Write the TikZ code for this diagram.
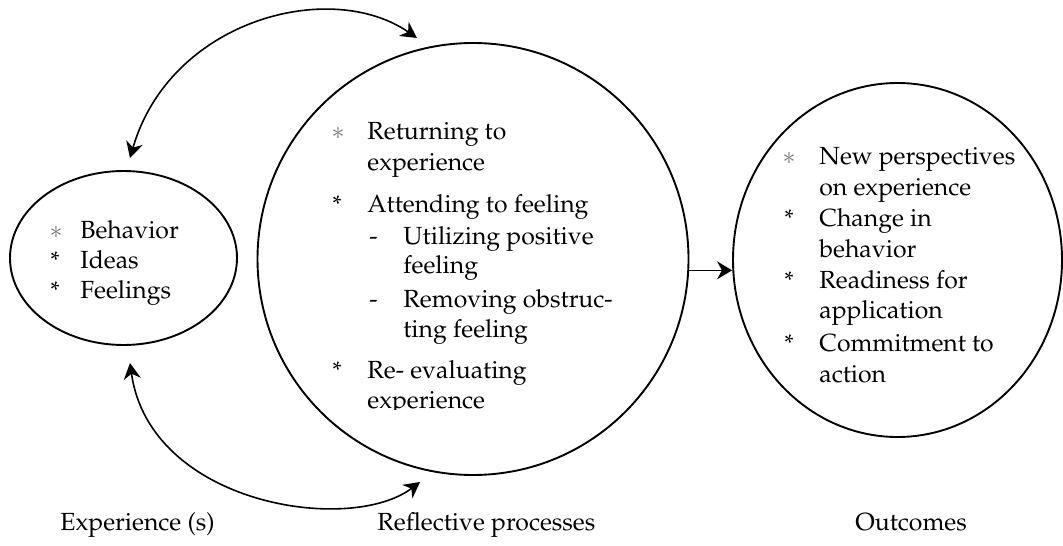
\documentclass[tikz,border=0pt]{standalone}
\usepackage[T1]{fontenc}
\usepackage{mathpazo}
\usetikzlibrary{arrows.meta,shapes.geometric}
\begin{document}
\begin{tikzpicture}[x=0.5pt,y=-0.5pt,
  ring/.style={draw, ellipse, line width=0.95pt, inner sep=0pt},
  tip/.style={line width=0.8pt},
  twoway/.style={tip, {Stealth[length=8pt,width=8.5pt]}-{Stealth[length=8pt,width=8.5pt]}},
  oneway/.style={tip, -{Stealth[length=7.5pt,width=9pt]}},
  txt/.style={anchor=base west, inner sep=0pt, font=\fontsize{12.4}{14}\selectfont},
  lightstar/.style={txt, text=black!55}]
\useasboundingbox (0,0) rectangle (1063,545);

% the three stages
\node[ring, minimum width=113.5pt, minimum height=87pt] (exp) at (123.5,258) {};
\node[ring, minimum width=215.5pt, minimum height=216pt] (refl) at (473,259) {};
\node[ring, minimum width=164.5pt, minimum height=177pt] (outc) at (897.5,260) {};

% experiences
\node[lightstar] (e1s) at (49,238) {$\ast$};
\node[txt] (e1) at (80,238) {Behavior};
\node[txt] (e2s) at (50,268) {\large *};
\node[txt] (e2) at (80,268) {Ideas};
\node[txt] (e3s) at (50,298) {\large *};
\node[txt] (e3) at (80,298) {Feelings};

% reflective processes
\node[lightstar] (r1s) at (331,140) {$\ast$};
\node[txt] (r1a) at (367,140) {Returning to};
\node[txt] (r1b) at (367,170) {experience};
\node[txt] (r2s) at (332,213) {\large *};
\node[txt] (r2) at (367,213) {Attending to feeling};
\node[txt] (r2ad) at (369,244) {-};
\node[txt] (r2a) at (403,244) {Utilizing positive};
\node[txt] (r2a2) at (403,273) {feeling};
\node[txt] (r2bd) at (369,307) {-};
\node[txt] (r2b) at (403,307) {Removing obstruc-};
\node[txt] (r2b2) at (403,337) {ting feeling};
\node[txt] (r3s) at (332,378) {\large *};
\node[txt] (r3a) at (367,378) {Re- evaluating};
\begin{scope}
  \clip (300,385) rectangle (640,409.5);
  \node[txt] (r3b) at (367,408) {experience};
\end{scope}

% outcomes
\node[lightstar] (o1s) at (782,164) {$\ast$};
\node[txt] (o1a) at (819,164) {New perspectives};
\node[txt] (o1b) at (819,195) {on experience};
\node[txt] (o2s) at (784,227) {\large *};
\node[txt] (o2a) at (819,227) {Change in};
\node[txt] (o2b) at (819,257) {behavior};
\node[txt] (o3s) at (784,288) {\large *};
\node[txt] (o3a) at (819,288) {Readiness for};
\node[txt] (o3b) at (819,318) {application};
\node[txt] (o4s) at (784,351) {\large *};
\node[txt] (o4a) at (819,351) {Commitment to};
\node[txt] (o4b) at (819,382) {action};

% captions
\node[txt] (cap1) at (60,530) {Experience (s)};
\node[txt] (cap2) at (377,530) {Reflective processes};
\node[txt] (cap3) at (855,530) {Outcomes};

% connectors
\coordinate (upA) at (130,158);
\coordinate (upB) at (417,38);
\coordinate (dnA) at (130,363);
\coordinate (dnB) at (420,482);
\draw[twoway] (upA) .. controls (170,20) and (330,-22) .. (upB);
\draw[twoway] (dnA) .. controls (150,505) and (350,535) .. (dnB);
\draw[oneway] (refl.-3.5) -- (refl.-3.5 -| outc.west);
\end{tikzpicture}
\end{document}
